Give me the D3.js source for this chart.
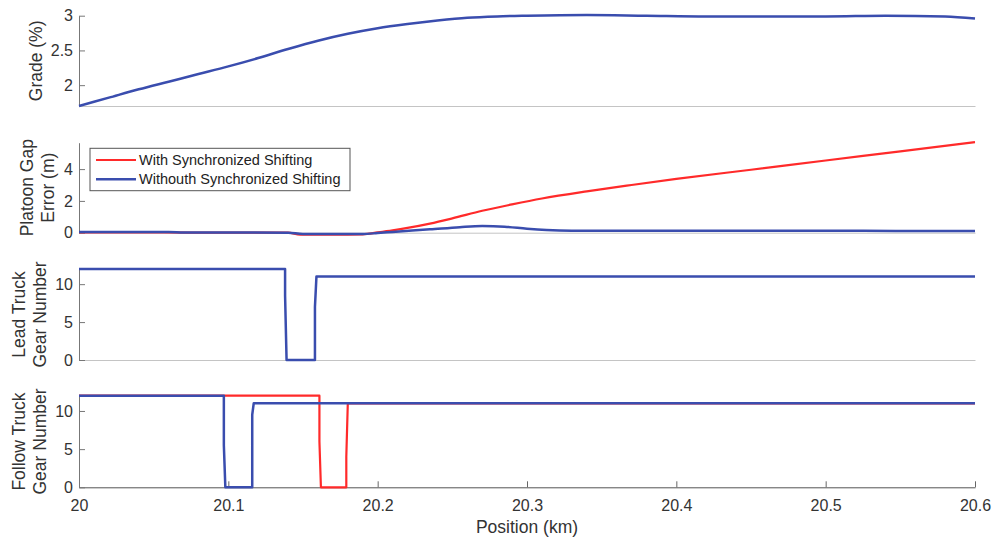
<!DOCTYPE html>
<html>
<head>
<meta charset="utf-8">
<script src="https://cdn.jsdelivr.net/npm/d3@7"></script>
<style>
    body { margin: 0; background: #fff; }
    svg { font-family: "Liberation Sans", Arial, sans-serif; }
</style>
</head>
<body>
<svg id="chart"></svg>
<script>
// position axis (km)
let xTicks = [20, 20.1, 20.2, 20.3, 20.4, 20.5, 20.6];

// grade (%)
let gradeX = [20, 20.02, 20.04, 20.06, 20.08, 20.1, 20.12, 20.14, 20.16, 20.18, 20.2, 20.22, 20.24, 20.26, 20.28, 20.3, 20.34, 20.38, 20.42, 20.46, 20.5, 20.54, 20.58, 20.6];
let gradeY = [1.7, 1.82, 1.94, 2.05, 2.16, 2.27, 2.39, 2.52, 2.64, 2.74, 2.82, 2.88, 2.93, 2.97, 2.99, 3.0, 3.01, 3.0, 2.99, 2.99, 2.99, 3.0, 2.99, 2.96];

// platoon gap error (m)
let gapSyncX = [20, 20.05, 20.1, 20.14, 20.148, 20.17, 20.19, 20.2, 20.21, 20.22, 20.235, 20.25, 20.27, 20.29, 20.31, 20.34, 20.37, 20.4, 20.45, 20.5, 20.55, 20.6];
let gapSyncY = [0.02, 0.02, 0.0, 0.0, -0.12, -0.13, -0.1, 0.02, 0.15, 0.3, 0.57, 0.9, 1.38, 1.78, 2.15, 2.6, 3.0, 3.38, 3.96, 4.54, 5.12, 5.7];
let gapNoSyncX = [20, 20.06, 20.07, 20.14, 20.15, 20.19, 20.2, 20.21, 20.235, 20.255, 20.27, 20.285, 20.3, 20.313, 20.33, 20.4, 20.5, 20.55, 20.6];
let gapNoSyncY = [0.05, 0.05, 0.02, 0.0, -0.08, -0.08, -0.02, 0.05, 0.21, 0.35, 0.42, 0.38, 0.25, 0.17, 0.13, 0.13, 0.13, 0.1, 0.1];

// gear numbers
let leadX = [20, 20.138, 20.138, 20.139, 20.158, 20.158, 20.159, 20.6];
let leadY = [12, 12, 8.5, 0, 0, 7, 11, 11];
let followSyncX = [20, 20.161, 20.161, 20.162, 20.179, 20.179, 20.18, 20.6];
let followSyncY = [12, 12, 6, 0, 0, 4, 11, 11];
let followNoSyncX = [20, 20.097, 20.097, 20.098, 20.116, 20.116, 20.117, 20.6];
let followNoSyncY = [12, 12, 5.5, 0, 0, 9.5, 11, 11];

let legendLabels = ["With Synchronized Shifting", "Withouth Synchronized Shifting"];

let red = "#ff2a2a", blue = "#3a4dae";

let width = 993, height = 539;
let svg = d3.select("#chart").attr("width", width).attr("height", height);

let xScale = d3.scaleLinear().domain([20, 20.6]).range([79, 975]);

let zip = (xs, ys) => xs.map((x, i) => [x, ys[i]]);

// smooth curves for measured signals, straight segments for gear steps
let panels = [
    {label: ["Grade (%)"], domain: [1.7, 3], range: [106, 15.7], ticks: [2, 2.5, 3], curve: d3.curveMonotoneX,
        series: [{d: zip(gradeX, gradeY), c: blue, w: 2.5}]},
    {label: ["Platoon Gap", "Error (m)"], domain: [0, 5.66], range: [232.7, 142.7], ticks: [0, 2, 4], curve: d3.curveMonotoneX,
        series: [{d: zip(gapSyncX, gapSyncY), c: red, w: 2.2}, {d: zip(gapNoSyncX, gapNoSyncY), c: blue, w: 2.5}]},
    {label: ["Lead Truck", "Gear Number"], domain: [0, 12], range: [360, 269], ticks: [0, 5, 10], curve: d3.curveLinear,
        series: [{d: zip(leadX, leadY), c: blue, w: 2.5}]},
    {label: ["Follow Truck", "Gear Number"], domain: [0, 12], range: [487.3, 395.7], ticks: [0, 5, 10], curve: d3.curveLinear,
        series: [{d: zip(followSyncX, followSyncY), c: red, w: 2.2}, {d: zip(followNoSyncX, followNoSyncY), c: blue, w: 2.5}]}
];

panels.forEach((p, idx) => {
    let yScale = d3.scaleLinear().domain(p.domain).range(p.range);
    let g = svg.append("g");
    let last = idx === panels.length - 1;

    // bottom axis line
    let xAx = d3.axisBottom(xScale).tickValues(xTicks).tickSizeInner(last ? -6 : 0).tickSizeOuter(0)
        .tickFormat(last ? d3.format("") : "");
    let xg = g.append("g").attr("transform", `translate(0,${p.range[0]})`).call(xAx);
    xg.select(".domain").attr("stroke", last ? "#555" : "#c4c4c4");
    xg.selectAll(".tick line").attr("stroke", "#666");
    xg.selectAll(".tick text").attr("fill", "#333").style("font-size", "16px")
        .attr("y", 0).attr("dy", 0).attr("transform", "translate(0,24)");

    // left axis
    let yAx = d3.axisLeft(yScale).tickValues(p.ticks).tickSizeInner(-6).tickSizeOuter(0).tickPadding(6)
        .tickFormat(d3.format("~g"));
    let yg = g.append("g").attr("transform", "translate(79,0)").call(yAx);
    yg.select(".domain").attr("stroke", "#777");
    yg.selectAll(".tick line").attr("stroke", "#777");
    yg.selectAll(".tick text").attr("fill", "#333").style("font-size", "16px");

    let line = d3.line().curve(p.curve).x(d => xScale(d[0])).y(d => yScale(d[1]));
    p.series.forEach(s => {
        g.append("path").attr("d", line(s.d)).attr("fill", "none")
            .attr("stroke", s.c).attr("stroke-width", s.w).attr("stroke-linejoin", "round");
    });

    let cy = (p.range[0] + p.range[1]) / 2;
    let xs = p.label.length === 1 ? [36] : (idx === 1 ? [27, 48] : [18.5, 40]);
    p.label.forEach((t, i) => {
        g.append("text").attr("transform", `translate(${xs[i]},${cy}) rotate(-90)`)
            .attr("text-anchor", "middle").attr("dominant-baseline", "central")
            .attr("fill", "#333").style("font-size", "17.5px").text(t);
    });
});

// x axis title
svg.append("text").attr("x", 527).attr("y", 533).attr("text-anchor", "middle")
    .attr("fill", "#333").style("font-size", "17.5px").text("Position (km)");

// legend
let leg = svg.append("g");
leg.append("rect").attr("x", 90).attr("y", 148.3).attr("width", 260).attr("height", 42.4)
    .attr("fill", "#fff").attr("stroke", "#555").attr("stroke-width", 1);
[red, blue].forEach((c, i) => {
    let y = 160 + i * 19.3;
    leg.append("line").attr("x1", 96).attr("x2", 136).attr("y1", y).attr("y2", y)
        .attr("stroke", c).attr("stroke-width", i ? 2.5 : 2.2);
    leg.append("text").attr("x", 139).attr("y", y).attr("dominant-baseline", "central")
        .attr("fill", "#222").style("font-size", "14.5px").text(legendLabels[i]);
});
</script>
</body>
</html>
